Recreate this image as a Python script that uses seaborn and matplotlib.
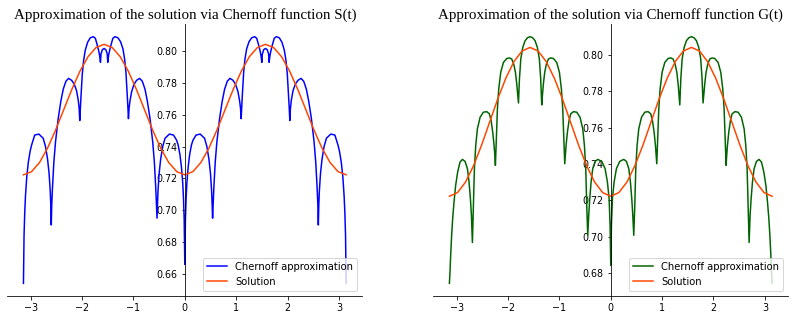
import matplotlib
matplotlib.use("Agg")
import matplotlib.pyplot as plt
import seaborn as sns

# ---------------- data ----------------
# Chernoff approximation via S(t)
S_x_left = [-3.1416, -3.130, -3.117, -3.102, -3.077, -3.047, -3.012, -2.982, -2.922, -2.842, -2.758, -2.712, -2.672, -2.642, -2.620, -2.610,
            -2.600, -2.590, -2.576, -2.550, -2.517, -2.465, -2.413, -2.367, -2.315, -2.263, -2.204, -2.152, -2.107, -2.074, -2.057,
            -2.045, -2.032, -2.022, -1.996, -1.970, -1.938, -1.892, -1.840, -1.782, -1.742, -1.710, -1.677, -1.658,
            -1.642, -1.632, -1.606, -1.571, -1.536, -1.510,
            -1.500, -1.484, -1.465, -1.432, -1.400, -1.360, -1.302, -1.250, -1.204, -1.172, -1.146, -1.120, -1.110,
            -1.097, -1.085, -1.068, -1.035, -0.990, -0.938, -0.879, -0.827, -0.775, -0.729, -0.677, -0.625, -0.592, -0.566, -0.552,
            -0.541, -0.532, -0.522, -0.500, -0.470, -0.430, -0.384, -0.300, -0.220, -0.160, -0.130, -0.095, -0.065, -0.040, -0.025, -0.012]
S_y_left = [0.654, 0.684, 0.698, 0.709, 0.721, 0.730, 0.737, 0.741, 0.7472, 0.7478, 0.7452, 0.7400, 0.7320, 0.7230, 0.7120, 0.7040,
            0.6907, 0.7040, 0.7143, 0.7300, 0.7430, 0.7575, 0.7685, 0.7760, 0.7810, 0.7828, 0.7816, 0.7792, 0.7750, 0.7690, 0.7640,
            0.7563, 0.7650, 0.7710, 0.7855, 0.7940, 0.8005, 0.8055, 0.8083, 0.8090, 0.8080, 0.8044, 0.8002, 0.7971,
            0.7929, 0.7981, 0.8008, 0.8016, 0.8008, 0.7981,
            0.7929, 0.7971, 0.8002, 0.8044, 0.8080, 0.8090, 0.8083, 0.8058, 0.8013, 0.7950, 0.7866, 0.7720, 0.7660,
            0.7575, 0.7640, 0.7685, 0.7745, 0.7790, 0.7816, 0.7828, 0.7810, 0.7760, 0.7685, 0.7575, 0.7430, 0.7300, 0.7143, 0.7040,
            0.6950, 0.7040, 0.7120, 0.7230, 0.7320, 0.7400, 0.7452, 0.7478, 0.7472, 0.744, 0.741, 0.735, 0.727, 0.717, 0.707, 0.694]
S_x_right = [0.000, 0.012, 0.025, 0.040, 0.065, 0.095, 0.130, 0.160, 0.220, 0.300, 0.384, 0.430, 0.470, 0.500, 0.522, 0.532, 0.541,
             0.552, 0.566, 0.592, 0.625, 0.677, 0.729, 0.775, 0.827, 0.879, 0.938, 0.990, 1.035, 1.068, 1.085, 1.097,
             1.110, 1.120, 1.146, 1.172, 1.204, 1.250, 1.302, 1.360, 1.400, 1.432, 1.465, 1.484, 1.500,
             1.510, 1.536, 1.571, 1.606, 1.632, 1.642,
             1.658, 1.677, 1.710, 1.742, 1.782, 1.840, 1.892, 1.938, 1.970, 1.996, 2.022, 2.032, 2.045,
             2.057, 2.074, 2.107, 2.152, 2.204, 2.263, 2.315, 2.367, 2.413, 2.465, 2.517, 2.550, 2.576, 2.590, 2.600,
             2.610, 2.620, 2.642, 2.672, 2.712, 2.758, 2.842, 2.922, 2.982, 3.012, 3.047, 3.077, 3.102, 3.117, 3.130, 3.1416]
S_y_right = [0.666, 0.694, 0.707, 0.717, 0.727, 0.735, 0.741, 0.744, 0.7472, 0.7478, 0.7452, 0.7400, 0.7320, 0.7230, 0.7120, 0.7040, 0.6950,
             0.7040, 0.7143, 0.7300, 0.7430, 0.7575, 0.7685, 0.7760, 0.7810, 0.7828, 0.7816, 0.7790, 0.7745, 0.7685, 0.7640, 0.7575,
             0.7660, 0.7720, 0.7866, 0.7950, 0.8013, 0.8058, 0.8083, 0.8090, 0.8080, 0.8044, 0.8002, 0.7971, 0.7929,
             0.7981, 0.8008, 0.8016, 0.8008, 0.7981, 0.7929,
             0.7971, 0.8002, 0.8044, 0.8080, 0.8090, 0.8083, 0.8055, 0.8005, 0.7940, 0.7855, 0.7710, 0.7650, 0.7563,
             0.7640, 0.7690, 0.7750, 0.7792, 0.7816, 0.7828, 0.7810, 0.7760, 0.7685, 0.7575, 0.7430, 0.7300, 0.7143, 0.7040, 0.6907,
             0.7040, 0.7120, 0.7230, 0.7320, 0.7400, 0.7452, 0.7478, 0.7472, 0.741, 0.737, 0.730, 0.721, 0.709, 0.698, 0.684, 0.654]

# Chernoff approximation via G(t)
G_x_left = [-3.1416, -3.130, -3.117, -3.098, -3.078, -3.052, -3.020, -2.981, -2.935, -2.888, -2.837, -2.791, -2.759, -2.733, -2.713,
            -2.694, -2.674, -2.655, -2.629, -2.597, -2.544, -2.480, -2.415, -2.363, -2.330, -2.298, -2.272, -2.258,
            -2.246, -2.226, -2.207, -2.181, -2.142, -2.090, -2.025, -1.973, -1.928, -1.889, -1.856, -1.830, -1.810,
            -1.797, -1.778, -1.752, -1.713, -1.668, -1.622, -1.571, -1.520, -1.474, -1.429, -1.390, -1.364,
            -1.344, -1.331, -1.312, -1.286, -1.253, -1.214, -1.169, -1.117, -1.052, -1.000, -0.961, -0.935, -0.916,
            -0.896, -0.884, -0.870, -0.844, -0.812, -0.779, -0.727, -0.662, -0.598, -0.545, -0.513, -0.487, -0.468,
            -0.448, -0.429, -0.409, -0.383, -0.351, -0.305, -0.253, -0.175, -0.110, -0.065, -0.032, -0.013]
G_y_left = [0.6742, 0.6806, 0.6897, 0.7007, 0.7099, 0.7190, 0.7282, 0.7355, 0.7410, 0.7425, 0.7414, 0.7374, 0.7300, 0.7209, 0.7117,
            0.6967, 0.7172, 0.7374, 0.7502, 0.7593, 0.7657, 0.7685, 0.7688, 0.7676, 0.7639, 0.7575, 0.7502, 0.7450,
            0.7392, 0.7557, 0.7703, 0.7813, 0.7905, 0.7959, 0.7981, 0.7984, 0.7978, 0.7950, 0.7905, 0.7840, 0.7776,
            0.7736, 0.7868, 0.7978, 0.8042, 0.8079, 0.8095, 0.8101, 0.8095, 0.8079, 0.8042, 0.7978, 0.7868,
            0.7725, 0.7776, 0.7840, 0.7905, 0.7950, 0.7978, 0.7984, 0.7981, 0.7959, 0.7905, 0.7813, 0.7703, 0.7557,
            0.7401, 0.7450, 0.7502, 0.7575, 0.7639, 0.7676, 0.7688, 0.7685, 0.7657, 0.7593, 0.7502, 0.7374, 0.7172,
            0.7007, 0.7117, 0.7209, 0.7300, 0.7374, 0.7414, 0.7425, 0.7414, 0.7374, 0.7300, 0.7209, 0.7062]
G_x_right = [0.000, 0.013, 0.032, 0.065, 0.110, 0.175, 0.253, 0.305, 0.351, 0.383, 0.409, 0.429, 0.448,
             0.468, 0.487, 0.513, 0.545, 0.598, 0.662, 0.727, 0.779, 0.812, 0.844, 0.870, 0.884, 0.896,
             0.916, 0.935, 0.961, 1.000, 1.052, 1.117, 1.169, 1.214, 1.253, 1.286, 1.312, 1.331, 1.344,
             1.364, 1.390, 1.429, 1.474, 1.520, 1.571, 1.622, 1.668, 1.713, 1.752, 1.778, 1.797,
             1.810, 1.830, 1.856, 1.889, 1.928, 1.973, 2.025, 2.090, 2.142, 2.181, 2.207, 2.226, 2.246,
             2.258, 2.272, 2.298, 2.330, 2.363, 2.415, 2.480, 2.544, 2.597, 2.629, 2.655, 2.674, 2.694,
             2.713, 2.733, 2.759, 2.791, 2.837, 2.888, 2.935, 2.981, 3.020, 3.052, 3.078, 3.098, 3.117, 3.130, 3.1416]
G_y_right = [0.6842, 0.7062, 0.7209, 0.7300, 0.7374, 0.7414, 0.7425, 0.7414, 0.7374, 0.7300, 0.7209, 0.7117, 0.7007,
             0.7172, 0.7374, 0.7502, 0.7593, 0.7657, 0.7685, 0.7688, 0.7676, 0.7639, 0.7575, 0.7502, 0.7450, 0.7401,
             0.7557, 0.7703, 0.7813, 0.7905, 0.7959, 0.7981, 0.7984, 0.7978, 0.7950, 0.7905, 0.7840, 0.7776, 0.7725,
             0.7868, 0.7978, 0.8042, 0.8079, 0.8095, 0.8101, 0.8095, 0.8079, 0.8042, 0.7978, 0.7868, 0.7736,
             0.7776, 0.7840, 0.7905, 0.7950, 0.7978, 0.7984, 0.7981, 0.7959, 0.7905, 0.7813, 0.7703, 0.7557, 0.7392,
             0.7450, 0.7502, 0.7575, 0.7639, 0.7676, 0.7688, 0.7685, 0.7657, 0.7593, 0.7502, 0.7374, 0.7172, 0.6967,
             0.7117, 0.7209, 0.7300, 0.7374, 0.7414, 0.7425, 0.7410, 0.7355, 0.7282, 0.7190, 0.7099, 0.7007, 0.6897, 0.6806, 0.6742]

# Exact solution
sol_x = [-3.1416, -2.9845, -2.8274, -2.6704, -2.5133, -2.3562, -2.1991, -2.0420, -1.8850, -1.7279, -1.5708,
         -1.4137, -1.2566, -1.0996, -0.9425, -0.7854, -0.6283, -0.4712, -0.3142, -0.1571, 0.0,
         0.1571, 0.3142, 0.4712, 0.6283, 0.7854, 0.9425, 1.0996, 1.2566, 1.4137, 1.5708,
         1.7279, 1.8850, 2.0420, 2.1991, 2.3562, 2.5133, 2.6704, 2.8274, 2.9845, 3.1416]
sol_y = [0.7222, 0.7242, 0.7300, 0.7391, 0.7505, 0.7632, 0.7759, 0.7873, 0.7964, 0.8022, 0.8042,
         0.8022, 0.7964, 0.7873, 0.7759, 0.7632, 0.7505, 0.7391, 0.7300, 0.7242, 0.7222,
         0.7242, 0.7300, 0.7391, 0.7505, 0.7632, 0.7759, 0.7873, 0.7964, 0.8022, 0.8042,
         0.8022, 0.7964, 0.7873, 0.7759, 0.7632, 0.7505, 0.7391, 0.7300, 0.7242, 0.7222]

x_ticks = [-3, -2, -1, 0, 1, 2, 3]
titles = ["Approximation of the solution via Chernoff function S(t)",
          "Approximation of the solution via Chernoff function G(t)"]
labels = ["Chernoff approximation", "Solution"]

# ---------------- figure ----------------
DPI = 72
fig = plt.figure(figsize=(795 / DPI, 320 / DPI), dpi=DPI)
ax1 = fig.add_axes([0.0092, 0.0759, 0.4465, 0.848])
ax2 = fig.add_axes([0.5450, 0.0759, 0.4465, 0.848])

panels = [
    (ax1, S_x_left + S_x_right, S_y_left + S_y_right, "blue", titles[0]),
    (ax2, G_x_left + G_x_right, G_y_left + G_y_right, "darkgreen", titles[1]),
]

for ax, cx, cy, col, title in panels:
    sns.lineplot(x=cx, y=cy, ax=ax, color=col, linewidth=1.5,
                 label=labels[0], sort=False, estimator=None)
    sns.lineplot(x=sol_x, y=sol_y, ax=ax, color="orangered", linewidth=1.5,
                 label=labels[1], sort=False, estimator=None)
    ax.spines["left"].set_position(("data", 0))
    ax.spines["top"].set_visible(False)
    ax.spines["right"].set_visible(False)
    ax.set_xticks(x_ticks)
    ax.tick_params(labelsize=9.5)
    ax.set_title(title, fontfamily="Liberation Serif", fontsize=15)
    ax.legend(loc="lower right", fontsize=10)

fig.savefig("out.png", dpi=DPI)
